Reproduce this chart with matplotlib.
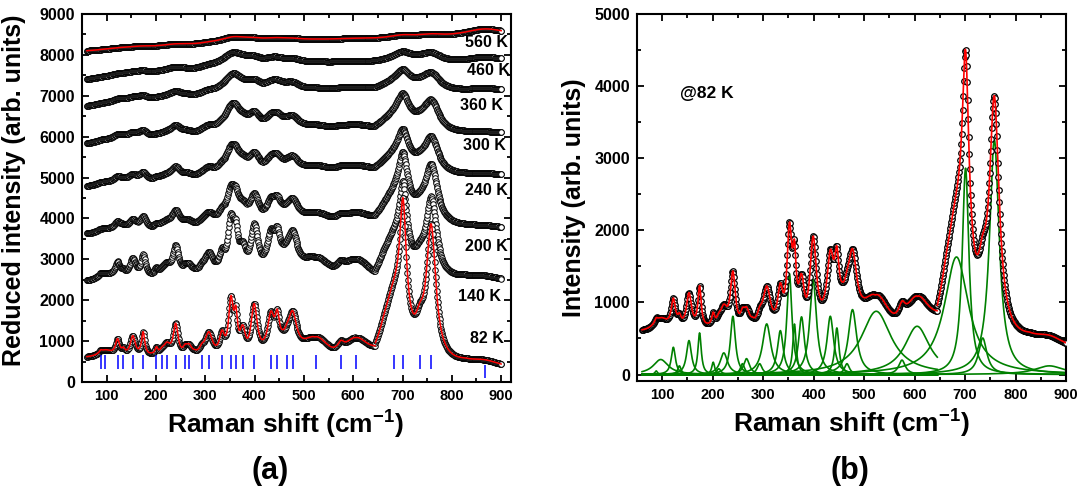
import numpy as np
import matplotlib
matplotlib.use('Agg')
import matplotlib.pyplot as plt
from matplotlib.ticker import MultipleLocator

plt.rcParams['font.family'] = ['Liberation Sans', 'DejaVu Sans']
plt.rcParams['font.weight'] = 'bold'
plt.rcParams['mathtext.fontset'] = 'custom'
plt.rcParams['mathtext.rm'] = 'Liberation Sans:bold'
plt.rcParams['mathtext.it'] = 'Liberation Sans:bold'
plt.rcParams['mathtext.bf'] = 'Liberation Sans:bold'
plt.rcParams['mathtext.default'] = 'regular'

# Lorentzian modes of the 82 K fit (blue ticks in (a), green curves in (b))
mode_pos = [88, 97, 122, 134, 153, 174, 201, 212, 222, 240, 259, 267, 293, 307, 334,
            352, 362, 376, 399, 433, 446, 466, 477, 524, 575, 605, 683, 701, 735, 758, 867]
mode_height = [50, 208, 378, 120, 471, 577, 171, 80, 300, 808, 150, 220, 150, 702, 609,
               1400, 700, 800, 1316, 808, 646, 150, 900, 877, 200, 669, 1630, 2862, 506, 3255, 120]
mode_hwhm = [3, 18, 5, 4, 6, 4, 3.5, 5, 9, 6, 5, 7, 6, 10, 7,
             6, 4, 7, 8, 8, 5, 6, 10, 36, 8, 30, 29, 8, 10, 11.5, 35]
SPLIT = 645          # the 82 K spectrum was fitted in two windows
BAND = 867           # weak high-frequency band (short blue tick)

# background of the 82 K fit in each window
bg_lo_x = [60, 97, 150, 175, 190, 240, 279, 305, 322, 338, 352, 362, 376, 398, 414,
           434, 457, 477, 503, 522, 556, 579, 606, 645]
bg_lo_y = [560, 535, 580, 556, 574, 480, 540, 357, 380, 300, 330, 450, 190, 332, 436,
           560, 600, 380, 203, 80, 126, 182, 249, 560]
bg_hi_x = [645, 662, 700, 721, 756, 794, 827, 860, 900]
bg_hi_y = [260, 400, 295, 240, 250, 313, 370, 345, 320]

# temperature series of panel (a)
temps = ['82 K', '140 K', '200 K', '240 K', '300 K', '360 K', '460 K', '560 K']
t_start = [612, 2490, 3633, 4796, 5841, 6755, 7408, 8102]
t_end = [449, 2531, 3796, 5082, 6102, 7163, 7914, 8592]
t_amp_lo = [1.0, 0.95, 0.56, 0.4, 0.35, 0.23, 0.156, 0.06]
t_amp_hi = [1.0, 0.6, 0.44, 0.27, 0.23, 0.13, 0.07, 0.02]
t_broad = [0, 1.5, 4, 6, 8, 11, 15, 20]
t_band = [120, 100, 60, 60, 60, 80, 150, 200]
t_dip = [1.0, 1.0, 0.4, 0.2, 0.2, 0.1, 0.0, 0.0]
label_x = [871, 857, 871, 871, 867, 860, 874, 871]
label_y = [1061, 2082, 3306, 4673, 5776, 6755, 7629, 8306]

pos = np.array(mode_pos, float)
hgt = np.array(mode_height, float)
wid = np.array(mode_hwhm, float)
is_lo = pos < SPLIT
is_hi = (~is_lo) & (pos != BAND)
is_band = pos == BAND


def lorentz(x, c, h, g):
    return h / (1 + ((x - c) / g) ** 2)


def modes(x, sel, scale=1.0, extra=0.0):
    return np.array([lorentz(x, c, h * scale, g + extra)
                     for c, h, g in zip(pos[sel], hgt[sel], wid[sel])])


def fit82(x):
    lo = np.interp(x, bg_lo_x, bg_lo_y) + modes(x, is_lo).sum(0)
    hi = np.interp(x, bg_hi_x, bg_hi_y) + modes(x, ~is_lo).sum(0)
    return np.where(x < SPLIT, lo, hi)


def spectrum(x, i):
    if i == 0:
        return fit82(x)
    d = t_broad[i]
    dip = fit82(x) - modes(x, np.ones_like(is_lo)).sum(0) - bg_lo_y[0]
    raw = (modes(x, is_lo, t_amp_lo[i], d).sum(0) + modes(x, is_hi, t_amp_hi[i], d).sum(0)
           + lorentz(x, BAND, t_band[i], 35 + d) + t_dip[i] * dip)
    a0 = t_start[i] - raw[0]
    a1 = t_end[i] - raw[-1]
    return raw + a0 + (a1 - a0) * (x - x[0]) / (x[-1] - x[0])


xa = np.arange(60, 900.01, 1.0)
xb = np.arange(60, 900.01, 1.0)
xf = np.arange(60, 900.01, 0.5)

fig = plt.figure(figsize=(10.84, 5.0), dpi=100)
axA = fig.add_axes([82 / 1084, 1 - 382 / 500, 429 / 1084, 368 / 500])
axB = fig.add_axes([637 / 1084, 1 - 381 / 500, 429 / 1084, 367 / 500])

mk = dict(ls='none', marker='o', mfc='white', mec='black')

# (a) temperature series
for i in reversed(range(len(temps))):
    axA.plot(xa, spectrum(xa, i), ms=4.0, mew=0.7, zorder=2 + 0.1 * (8 - i), **mk)
yf = fit82(xf)
lo_part = xf < SPLIT
axA.plot(xf[lo_part], yf[lo_part], color='red', lw=1.1, zorder=5)
axA.plot(xf[~lo_part], yf[~lo_part], color='red', lw=1.1, zorder=5)
axA.plot(xf, spectrum(xf, 7), color='red', lw=1.1, zorder=5)
axA.vlines(pos[~is_band], 330, 660, color='blue', lw=1.1, zorder=6)
axA.vlines(pos[is_band], 90, 416, color='blue', lw=1.1, zorder=6)
for t, lx, ly in zip(temps, label_x, label_y):
    axA.text(lx, ly, t, ha='center', va='center', fontsize=11.5, fontweight='bold', zorder=7)

axA.set_xlim(50, 920)
axA.set_ylim(0, 9000)
axA.yaxis.set_major_locator(MultipleLocator(1000))
axA.yaxis.set_minor_locator(MultipleLocator(500))
axA.set_ylabel('Reduced intensity (arb. units)', fontsize=18, fontweight='bold', labelpad=4)
axA.yaxis.set_label_coords(-0.13, 0.52)

# (b) 82 K decomposition
for c, h, g, lo in zip(pos, hgt, wid, is_lo):
    xs = xf[xf <= SPLIT] if lo else xf
    axB.plot(xs, lorentz(xs, c, h, g), color='#008000', lw=1.2, zorder=2)
axB.plot(xb, fit82(xb), ms=4.0, mew=0.9, zorder=3, **mk)
axB.plot(xf[lo_part], yf[lo_part], color='red', lw=1.2, zorder=4)
axB.plot(xf[~lo_part], yf[~lo_part], color='red', lw=1.2, zorder=4)
axB.text(136, 3900, '@82 K', ha='left', va='center', fontsize=12.5, fontweight='bold')
axB.set_xlim(50, 900)
axB.set_ylim(-90, 5000)
axB.yaxis.set_major_locator(MultipleLocator(1000))
axB.yaxis.set_minor_locator(MultipleLocator(500))
axB.set_ylabel('Intensity (arb. units)', fontsize=18, fontweight='bold', labelpad=6)

for ax in (axA, axB):
    ax.xaxis.set_major_locator(MultipleLocator(100))
    ax.xaxis.set_minor_locator(MultipleLocator(50))
    ax.set_xticks(range(100, 901, 100))
    ax.tick_params(which='both', direction='in', top=True, right=True, width=1.3, pad=5)
    ax.tick_params(axis='x', labelsize=10.5)
    ax.tick_params(axis='y', labelsize=11.5)
    ax.tick_params(which='major', length=5)
    ax.tick_params(which='minor', length=3)
    for s in ax.spines.values():
        s.set_linewidth(1.5)
    ax.set_xlabel('Raman shift (cm$^{-1}$)', fontsize=19, fontweight='bold')
axA.xaxis.set_label_coords(0.475, -0.072)
axB.xaxis.set_label_coords(0.5, -0.072)

fig.text(270 / 1084, 1 - 471 / 500, '(a)', ha='center', va='center', fontsize=22, fontweight='bold')
fig.text(850 / 1084, 1 - 471 / 500, '(b)', ha='center', va='center', fontsize=22, fontweight='bold')

fig.savefig('out.png', dpi=100)
